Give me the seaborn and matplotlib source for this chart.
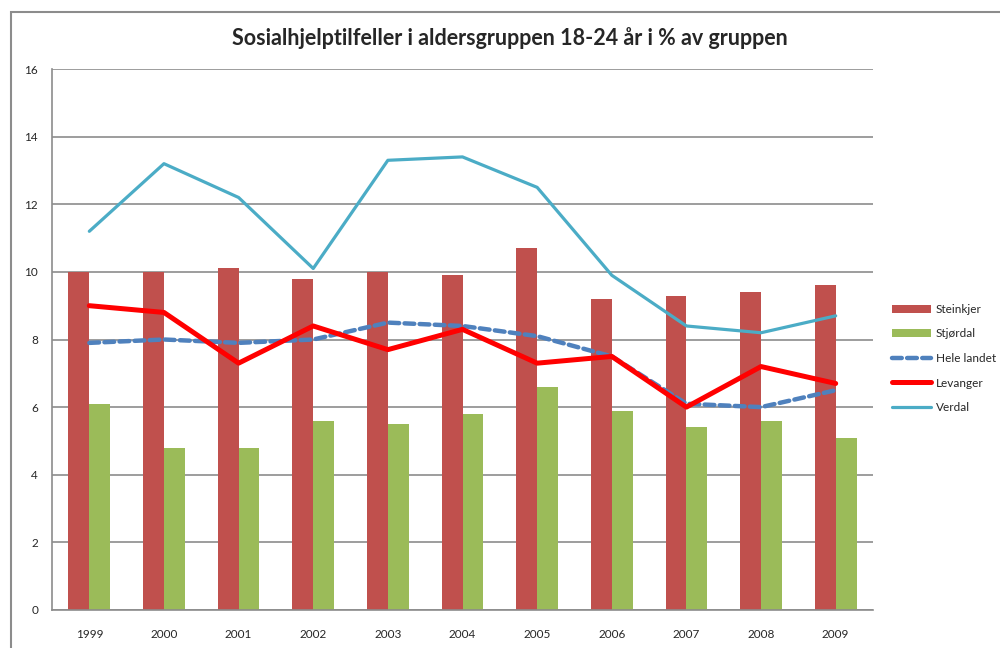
import numpy as np
import pandas as pd
import matplotlib
matplotlib.use('Agg')
import matplotlib.pyplot as plt
import seaborn as sns

# data
years = ['1999', '2000', '2001', '2002', '2003', '2004', '2005', '2006', '2007', '2008', '2009']
steinkjer = [10.0, 10.0, 10.1, 9.8, 10.0, 9.9, 10.7, 9.2, 9.3, 9.4, 9.6]
stjordal = [6.1, 4.8, 4.8, 5.6, 5.5, 5.8, 6.6, 5.9, 5.4, 5.6, 5.1]
hele_landet = [7.9, 8.0, 7.9, 8.0, 8.5, 8.4, 8.1, 7.5, 6.1, 6.0, 6.5]
levanger = [9.0, 8.8, 7.3, 8.4, 7.7, 8.3, 7.3, 7.5, 6.0, 7.2, 6.7]
verdal = [11.2, 13.2, 12.2, 10.1, 13.3, 13.4, 12.5, 9.9, 8.4, 8.2, 8.7]

sns.set_theme(style='white')
plt.rcParams['font.family'] = ['Lato', 'DejaVu Sans']

bars = pd.DataFrame({'år': years * 2,
                     'verdi': steinkjer + stjordal,
                     'kommune': ['Steinkjer'] * 11 + ['Stjørdal'] * 11})

fig = plt.figure(figsize=(10, 6.48), dpi=100)
ax = fig.add_axes([0.052, 1 - 610 / 648, 0.821, (610 - 69) / 648])

# ramme rundt hele diagrammet
fig.add_artist(plt.Rectangle((11 / 1000, -0.1), 1.2, 1 - 12 / 648 + 0.1,
                             transform=fig.transFigure, fill=False,
                             edgecolor='#8c8c8c', linewidth=1.5))

sns.barplot(data=bars, x='år', y='verdi', hue='kommune', ax=ax,
            palette=['#C0504D', '#9BBB59'], width=0.56, gap=0,
            saturation=1, legend=True, linewidth=0)

x = np.arange(len(years))
ax.plot(x, hele_landet, color='#4F81BD', lw=3.2, ls=(0, (2.2, 1.2)),
        label='Hele landet', dash_capstyle='round')
ax.plot(x, levanger, color='#FF0000', lw=3.6, label='Levanger')
ax.plot(x, verdal, color='#4BACC6', lw=2.3, label='Verdal')

ax.set_ylim(0, 16)
ax.set_xlim(-0.5, 10.5)
ax.set_yticks(range(0, 17, 2))
ax.yaxis.grid(True, color='#8c8c8c', lw=1.2)
ax.set_axisbelow(True)
for s in ['top', 'right']:
    ax.spines[s].set_visible(False)
for s in ['left', 'bottom']:
    ax.spines[s].set_color('#8c8c8c')
    ax.spines[s].set_linewidth(1.2)
ax.tick_params(axis='y', labelsize=8.5, pad=10, length=0)
ax.tick_params(axis='x', labelsize=8.5, pad=14, length=0)
ax.set_xlabel('')
ax.set_ylabel('')

fig.text(0.51, 1 - 38 / 648, 'Sosialhjelptilfeller i aldersgruppen 18-24 år i % av gruppen',
         ha='center', va='center', fontsize=15.5, fontweight='bold')

ax.legend(loc='center left', bbox_to_anchor=(1.01, 0.465), frameon=False,
          fontsize=8.5, handlelength=3.3, labelspacing=1.15, handletextpad=0.4)

fig.savefig('out.png', dpi=100)
